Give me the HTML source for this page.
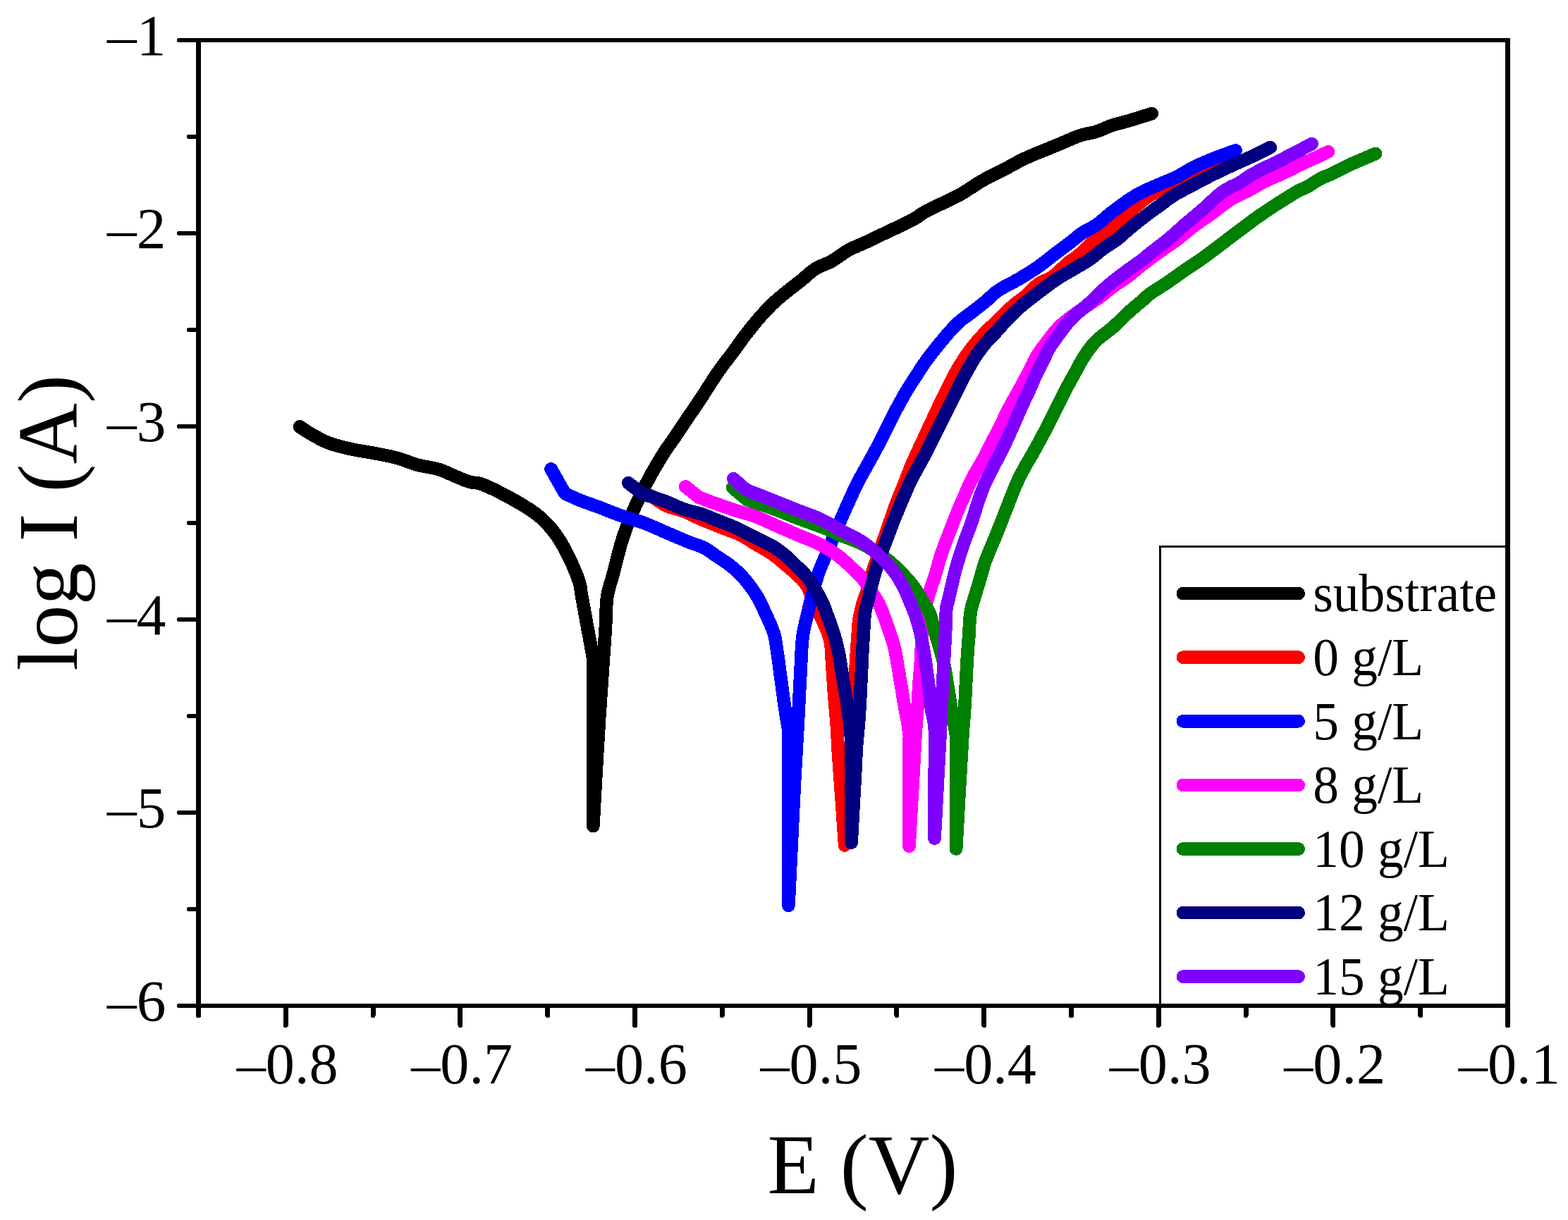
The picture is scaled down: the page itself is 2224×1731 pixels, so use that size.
<!DOCTYPE html>
<html lang="en"><head><meta charset="utf-8"><title>Polarization curves</title>
<style>
html,body{margin:0;padding:0;background:#fff;}
body{width:2224px;height:1731px;overflow:hidden;}
svg{display:block;}
</style></head><body>
<svg width="2224" height="1731" viewBox="0 0 2224 1731">
<rect width="2224" height="1731" fill="#fff"/>
<g fill="none" stroke-width="18.75" stroke-linecap="round" stroke-linejoin="round" shape-rendering="crispEdges">
<polyline stroke="#000000" points="425,605.4 429.6,608.4 434.2,611.4 438.9,614.4 443.8,617.2 449.1,620.2 454.5,623.2 460.2,626 466.2,628.5 473.8,631.1 481.8,633.3 490,635.4 498.1,637.2 505.9,638.8 513.7,640.1 521.5,641.4 529.4,642.8 538,644.4 546.7,646.1 555.4,647.9 563.8,650 571.1,652.3 578.2,654.9 585.3,657.5 592.5,659.8 600,661.4 607.7,662.8 615.2,664.2 622.5,666 628.9,668.3 635,671 641,673.7 646.9,676.2 652.1,678.4 657.2,680.6 662.2,682.5 667,684 670.5,684.7 673.8,685 677.3,685.3 681.2,686.2 690.3,689.7 701.1,694.7 712.4,700.5 723.1,706.2 733,711.7 742.8,717.5 752.2,723.4 760.6,729.4 766.6,734.3 772,739.3 777,744.4 781.9,750 786.9,756.4 791.6,763.1 796.1,770.3 800.6,778.1 806.6,789.8 812.7,803 818.1,815.9 821.9,826.9 823.1,831.7 823.7,835.6 824.2,839.7 825,845 828.2,862.5 832.3,885.2 836.9,910 841.2,933.8 841.3,1172 843.2,1138.1 845.1,1103.7 847,1070.4 848.8,1040 850,1019.8 851.3,1001.2 852.5,983.3 853.8,965 855.1,945.6 856.5,925.9 857.8,906.9 858.9,890 859.4,879.4 859.6,869.6 860,860.7 860.5,853 860.9,849 861.4,845.6 862,842.4 862.8,838.8 864.1,833.5 865.8,827.9 867.6,822.1 869.2,816.2 870.9,810.1 872.4,803.8 874,797.5 875.6,791.2 877.2,785.3 878.7,779.4 880.3,773.4 882.1,767.5 884.1,761.3 886.2,755.1 888.5,748.8 890.9,742.5 893.6,735.7 896.4,728.9 899.4,722 902.5,715 906.2,707.1 910.1,699 914.1,691 918,683.5 921.2,677.6 924.2,671.9 927.3,666.5 930.5,661 933.8,655.5 937.1,650 940.4,644.6 943.8,639.4 946.7,635.1 949.5,631.1 952.5,627 955.6,622.5 959.9,616.1 964.5,609.2 969.3,602 974,595 978.6,588.2 983.2,581.6 987.9,574.8 992.7,567.5 999,557.8 1005.6,547.5 1012.3,537.1 1018.8,527.5 1024,520.2 1029.1,513.4 1034.3,506.8 1039.4,500 1044.6,492.9 1049.7,485.7 1055,478.4 1060.8,470.9 1068.4,461.4 1076.6,451.5 1085.4,441.7 1094.5,432.2 1104.9,422.9 1116.2,413.6 1127.3,405 1136.9,397.4 1142.2,392.9 1146.8,388.8 1151.3,385.1 1156.2,381.6 1161.9,378.5 1167.9,375.9 1174,373.3 1179.9,370.4 1185.8,366.7 1191.6,362.7 1197.4,358.6 1203.4,354.9 1209.7,351.7 1216.2,348.9 1222.7,346.1 1229,343.3 1234.7,340.6 1240.2,338 1245.8,335.3 1252.1,332.2 1262.5,327.3 1274.4,321.8 1286,316.2 1295.9,311 1300.9,308 1305,305.1 1309.1,302.3 1314,299.4 1323,294.8 1333.4,290 1343.7,285.3 1352.1,281.2 1355.6,279.4 1358.5,277.9 1361.3,276.3 1364.6,274.4 1371.5,270.1 1379.6,264.9 1387.9,259.5 1395.9,254.8 1402.2,251.4 1408.4,248.4 1414.5,245.4 1420.9,242.2 1428.5,238.2 1436.3,233.9 1444.2,229.6 1452.1,225.6 1459.9,222 1467.8,218.6 1475.6,215.4 1482.8,212.5 1487.8,210.5 1492.4,208.6 1497,206.8 1502,204.8 1509.4,201.6 1517.5,198.1 1525.6,194.7 1533.2,191.9 1538.8,190.4 1544.1,189.3 1549.3,188.3 1554.5,186.9 1560.1,184.9 1565.6,182.6 1571.3,180.2 1577,178 1583.1,176.1 1589.2,174.5 1595.5,172.8 1602,171 1609.6,168.7 1617.6,166.2 1625.6,163.7 1633.6,161.2"/>
<polyline stroke="#ff0000" points="922.5,703 928.1,706.8 933.6,710.7 939.2,714.3 945,717.5 951.1,719.9 957.4,721.7 963.7,723.4 970,725.5 976.2,728.1 982.3,731.1 988.5,734.1 995,737 1002.6,740.2 1010.6,743.4 1018.6,746.5 1026.2,749.5 1032.8,752 1039.2,754.4 1045.4,756.8 1051.2,759.5 1056.1,762.2 1060.7,765 1065.2,768 1070,771 1076.4,774.7 1083.2,778.6 1089.9,782.6 1096,786.5 1100.2,789.6 1104,792.7 1107.7,795.8 1111.6,799.1 1116.3,803 1121.2,807.2 1126,811.4 1130.4,815.4 1133.6,818.4 1136.6,821.3 1139.4,824.2 1142,827.4 1144.3,831.1 1146.4,835.1 1148.3,839.3 1150.2,843.6 1152.6,848.8 1155,854.1 1157.4,859.8 1160,866 1164.3,875.6 1169.3,886.3 1173.9,897.2 1177.2,907.5 1178.6,915.2 1179.2,922.5 1179.5,929.8 1179.9,937.5 1180.6,946.7 1181.2,956.2 1181.8,965.8 1182.4,975 1183,983 1183.6,990.8 1184.3,998.5 1184.9,1006.2 1185.6,1014.2 1186.2,1022.1 1186.9,1030 1187.4,1037.5 1187.7,1043.7 1188,1049.6 1188.3,1055.6 1188.6,1062 1189.2,1070.5 1189.8,1079.4 1190.5,1089 1191.3,1100 1192.8,1121.6 1194.6,1146.8 1196.4,1173.5 1198.2,1199.5 1202.4,1130.8 1207,1058 1210.9,993.5 1213.6,950 1214,942.7 1214.3,937.4 1214.6,932.7 1214.9,927.5 1215.3,920.7 1215.8,913.7 1216.3,906.7 1216.8,900 1217.1,894.5 1217.4,889.3 1217.9,884.1 1218.6,878.8 1219.9,872.1 1221.5,865 1223.2,858.2 1225,852 1226.3,848.1 1227.6,844.7 1228.9,841.3 1230.2,837.5 1231.9,831.9 1233.4,825.8 1235.1,819.4 1237.1,812.5 1240.4,802.4 1244.3,791.2 1248.2,780.1 1251.8,770 1254.1,763.4 1256.2,757.3 1258.3,751.3 1260.5,745 1263.2,737.1 1266.1,728.8 1269,720.5 1271.9,712.5 1274.7,705.4 1277.6,698.4 1280.4,691.6 1283.1,685 1285.4,679 1287.6,673.2 1289.8,667.5 1292,662 1293.9,657.5 1295.8,653.1 1297.8,648.9 1299.8,644.5 1301.9,639.9 1304.1,635.2 1306.3,630.5 1308.5,625.8 1310.7,621.1 1312.9,616.4 1315.1,611.7 1317.2,607 1319.4,602.3 1321.6,597.6 1323.8,592.9 1326,588.2 1328.1,583.6 1330.3,579 1332.4,574.3 1334.6,569.8 1336.8,565.3 1339,561 1341.2,556.6 1343.4,552.2 1345.6,547.9 1347.7,543.5 1349.9,539.1 1352.1,534.8 1354.4,530.4 1356.8,526.2 1359.3,521.9 1361.9,517.6 1364.8,513 1367.7,508.4 1370.8,503.9 1374,499.4 1377.3,495 1380.6,490.7 1384,486.5 1387.4,482.5 1390.3,479.2 1393.1,476.2 1395.9,473.2 1399,470 1403,466.1 1407.2,462.1 1411.5,458 1416,453.8 1421.2,448.7 1426.5,443.4 1431.9,438.1 1437.1,433.4 1441.2,430.1 1445.2,427.1 1449.2,424.2 1453.4,420.9 1458.7,416.1 1464.2,410.8 1469.7,405.6 1475.1,401.4 1479.2,399.2 1483.2,397.7 1487.2,396.1 1491.4,393.9 1497.4,389.2 1503.8,383.3 1510,377.4 1515.6,372.4 1518.9,370 1521.9,368 1524.9,366 1528.1,363.6 1533.1,359.2 1538.3,354 1543.8,348.6 1549.4,343.6 1554.8,339.4 1560.3,335.5 1566,331.6 1572,327 1580.7,319.5 1590.2,311 1599.7,302.4 1608.9,294.6 1616.1,288.7 1622.9,283.1 1629.9,278 1637.5,273.4 1646.4,269.5 1655.9,266.3 1665.6,263.3 1675,260 1684,256.2 1692.9,252.1 1701.6,248 1710,244 1717.2,240.5 1724.2,237 1731.1,233.5 1738,230"/>
<polyline stroke="#0000ff" points="781.6,665.4 801.2,700 805.8,702.2 810.3,704.4 814.9,706.5 820,708.8 827.2,711.6 835.1,714.4 843.2,717.3 851.2,720.2 859.1,723.3 866.9,726.4 874.7,729.4 882.5,732.2 890.1,734.7 897.7,737 905.4,739.3 913,741.9 921,745.1 929,748.5 937,752.1 945,755.6 952.9,759 960.9,762.4 968.8,765.7 976.2,768.8 982.4,771.1 988.4,773.2 994.1,775.3 999.4,777.8 1003.4,780 1007,782.4 1010.5,785 1014.4,787.8 1020.2,791.6 1026.5,795.8 1032.9,800.2 1038.8,804.8 1043.6,808.9 1048.2,813.2 1052.6,817.7 1056.9,822.5 1061.6,828.4 1066.3,834.7 1070.7,841.2 1074.6,847.5 1077.4,852.5 1079.7,857.3 1082,862.2 1084.4,867.5 1087.8,874.8 1091.5,882.8 1095,890.9 1097.8,898.8 1099.4,905.3 1100.5,911.7 1101.4,918.1 1102.4,925 1103.7,933.9 1105,943.3 1106.2,953 1107.5,962.5 1108.8,971.9 1110,981.3 1111.3,990.6 1112.6,1000 1114,1009.4 1115.5,1018.8 1117,1028.1 1118.5,1037.5 1118.4,1284.8 1120.8,1236.3 1123.2,1186.3 1125.5,1139.3 1127.5,1100 1128.5,1082.2 1129.4,1067.1 1130.2,1052.9 1131.1,1037.5 1132.1,1018.1 1133.2,997.9 1134.2,977.7 1135.2,958.8 1136,943.5 1136.6,928.8 1137.4,914.9 1138.6,902.5 1139.9,894.9 1141.3,888.1 1142.9,881.6 1144.5,875 1146,868.6 1147.5,862.2 1149,855.8 1150.8,849 1153.2,839.9 1155.8,830.1 1158.7,820.3 1161.6,811.2 1164.2,804.5 1166.8,798.3 1169.6,792 1172.6,785 1177.5,773.2 1183.1,759.8 1188.7,746.5 1193.6,735 1196.3,728.8 1198.7,723.3 1201.1,718.1 1203.6,712.5 1206.6,705.8 1209.8,698.9 1213,691.9 1216.4,685 1220,678.2 1223.7,671.5 1227.5,664.7 1231.2,658 1235,651.2 1238.8,644.3 1242.5,637.5 1245.9,631 1248.6,625.8 1251,620.8 1253.5,615.9 1255.9,611 1258.4,606 1260.9,600.9 1263.4,595.9 1265.9,591 1268.3,586.3 1270.8,581.6 1273.3,577 1275.8,572.4 1278.2,568 1280.6,563.8 1283,559.5 1285.6,555.1 1288.5,550.3 1291.6,545.4 1294.8,540.5 1298,535.5 1301.6,530 1305.2,524.3 1308.9,518.6 1312.8,513.1 1316.6,507.9 1320.5,502.7 1324.5,497.6 1328.6,492.5 1333.1,486.9 1337.9,481.1 1342.6,475.5 1347.2,470.2 1351.3,465.9 1355.3,461.7 1359.3,457.9 1362.9,454.6 1365.1,452.8 1367.1,451.3 1369.2,449.9 1371.6,448.1 1377,444 1383.6,439 1390.3,433.8 1396.6,428.8 1401.4,424.6 1405.8,420.5 1410.3,416.4 1415.4,412.5 1422.4,408.1 1430.1,403.9 1438.1,399.8 1445.8,395.5 1452.9,391.2 1459.9,386.9 1466.8,382.4 1473.5,377.9 1479.5,373.5 1485.2,369 1490.8,364.5 1496.6,360 1503,355.2 1509.5,350.3 1515.9,345.6 1521.6,341.2 1525.2,338.4 1528.3,335.7 1531.5,333.1 1535,330.5 1539.7,327.7 1544.8,325 1550.1,322.2 1555.3,319 1560.8,314.8 1566.2,310.2 1571.8,305.4 1577.9,300.5 1586.2,294.3 1595.2,287.7 1604.5,281.3 1613.5,275.8 1621.1,271.7 1628.7,268.2 1636.2,265.1 1643.5,261.9 1650,259.1 1656.4,256.5 1662.7,253.9 1668.9,251 1675.1,247.6 1681.3,244 1687.5,240.4 1693.9,236.9 1701.2,233.5 1708.7,230.2 1716.3,227 1723.9,224 1731.1,221.2 1738.3,218.6 1745.4,216 1752.6,213.4"/>
<polyline stroke="#ff00ff" points="972.2,690.4 991.2,705.6 998.5,708.3 1005.7,711 1012.9,713.7 1020,716.2 1026.4,718.5 1032.6,720.6 1038.8,722.7 1045,724.8 1051.3,726.6 1057.6,728.4 1063.9,730.2 1070,732.2 1075.7,734.5 1081.3,736.9 1086.9,739.5 1093,742.2 1101.5,746 1110.7,750 1120.1,754.1 1129.2,758.1 1138,761.7 1146.8,765.2 1155.4,768.8 1163.6,772.8 1170.6,776.6 1177.3,780.7 1183.7,784.9 1189.9,789.4 1195.6,794 1201.1,798.9 1206.3,803.9 1211.1,808.5 1214.7,811.9 1218,815.1 1221.1,818.3 1224.2,821.9 1227.9,826.7 1231.4,832.1 1234.8,837.5 1238,842.5 1240.4,846.1 1242.5,849.5 1244.6,852.9 1246.8,856.9 1249.8,863.7 1252.8,871.4 1255.8,879.5 1258.6,887.5 1261.3,895.3 1264,903.3 1266.5,911.1 1268.6,918.8 1270,925.2 1271.2,931.4 1272.2,937.6 1273.2,943.8 1274.3,949.9 1275.3,956.1 1276.3,962.3 1277.4,968.8 1278.7,976.4 1280,984.4 1281.3,992.4 1282.6,1000 1283.8,1006.5 1285.1,1012.9 1286.3,1019.1 1287.4,1025 1288.1,1029.9 1288.7,1034.5 1289.3,1039.1 1289.9,1043.8 1289.5,1200.6 1291.6,1163.2 1293.9,1124.1 1295.9,1088.5 1297.4,1062 1297.8,1054.9 1298.1,1049.4 1298.3,1044.3 1298.7,1038.5 1299.4,1029.4 1300.2,1019.6 1301,1009.6 1301.8,1000 1302.3,992 1302.7,984.2 1303.1,976.5 1303.6,968.8 1304.2,960.9 1304.9,953.1 1305.5,945.3 1306.1,937.5 1306.5,930 1306.8,922.6 1307.1,915.3 1307.4,908 1307.6,901.2 1307.7,894.4 1308,887.8 1308.6,881.2 1309.5,875.3 1310.7,869.5 1312.1,863.7 1313.5,858 1315,852.2 1316.7,846.3 1318.4,840.6 1320.1,835 1321.7,830.3 1323.2,825.7 1324.8,821.2 1326.4,816.2 1328.3,809.8 1330.1,803 1332.1,795.9 1334.2,788.8 1337.1,780.5 1340.2,772 1343.5,763.5 1346.8,755 1350,746.6 1353.2,738.2 1356.4,730 1359.5,722.5 1361.8,717.1 1363.9,712.2 1366.1,707.4 1368.2,702.5 1370.3,697.6 1372.3,692.8 1374.5,687.9 1377,682.5 1381.5,674.1 1386.8,664.9 1392.2,655.6 1396.9,647.2 1399.7,641.9 1402.1,636.9 1404.5,632.1 1406.9,627.2 1409.4,622.5 1411.9,617.9 1414.4,613.3 1416.9,608.5 1419.4,603.3 1421.9,597.9 1424.4,592.5 1426.9,587.2 1429.3,582.5 1431.8,577.8 1434.3,573.2 1436.9,568.5 1439.6,563.6 1442.4,558.7 1445.3,553.6 1448.1,548.5 1451.2,542.7 1454.4,536.6 1457.6,530.6 1460.6,524.8 1463.1,519.7 1465.3,514.9 1467.7,510.1 1470.4,505.2 1473.9,499.9 1477.7,494.5 1481.8,489.1 1485.9,483.8 1490.1,478.2 1494.4,472.7 1499,467.3 1503.9,462.1 1509.7,456.9 1515.9,452.1 1522.4,447.3 1529.1,442.5 1536.9,437.1 1545.1,431.6 1553.2,426.3 1560.6,421.1 1565.7,417.2 1570.3,413.4 1574.8,409.7 1579.4,406.1 1584,402.9 1588.7,399.9 1593.4,396.9 1598.1,393.6 1603.3,389.5 1608.6,385.2 1613.9,380.7 1619.4,376.2 1625.5,371.6 1631.7,366.8 1638.1,362.1 1644.4,357.5 1650.6,353.1 1656.9,348.8 1663.2,344.5 1669.4,340 1675.7,335.1 1681.9,330 1688.1,324.9 1694.4,320 1700.6,315.5 1706.9,311.2 1713.1,306.9 1719.4,302.5 1725.8,297.6 1732.2,292.6 1738.7,287.7 1745.2,283.2 1751.6,279.7 1758.1,276.5 1764.5,273.5 1770.8,270.4 1776.2,267.3 1781.5,264.2 1786.9,261 1792.5,258 1799.4,254.7 1806.7,251.6 1814,248.4 1821.1,245.2 1827.5,242.1 1833.7,239 1839.9,235.8 1846.1,232.8 1852.5,229.8 1859.1,226.9 1865.4,224.1 1871.1,221.5 1874.6,219.9 1877.7,218.3 1880.7,216.9 1883.8,215.4"/>
<polyline stroke="#008000" points="1039.1,691.9 1059.4,708.8 1062,709.7 1064.4,710.5 1067.1,711.5 1070,712.5 1075,714.2 1080.6,716 1086.7,718.1 1093,720.3 1101.7,723.6 1111.1,727.3 1120.8,731.2 1130.5,735 1140.8,738.8 1151.4,742.6 1161.7,746.3 1171.2,750 1178.1,752.9 1184.4,755.7 1190.5,758.5 1196.8,761.2 1203,763.7 1209.1,765.9 1215.3,768.4 1221.8,771.2 1229.9,775.5 1238.5,780.5 1246.8,785.7 1254.4,790.9 1259.9,795.1 1264.8,799.3 1269.6,803.7 1274.4,808.4 1279.9,813.9 1285.4,819.8 1290.7,825.9 1295.6,832 1299.6,837.7 1303.2,843.5 1306.6,849.1 1309.8,854.5 1312.2,858.5 1314.6,862.2 1316.7,865.9 1318.6,869.8 1320,873.8 1321.1,877.9 1322.1,882.3 1323.4,887.5 1326.8,899.3 1331.1,913.7 1335.4,928.5 1338.8,941.6 1340.4,949.4 1341.6,956.5 1342.6,963.3 1343.8,970.4 1345,978.2 1346.3,986.2 1347.5,994.1 1348.8,1001.6 1349.8,1007.7 1350.9,1013.7 1352,1019.4 1353,1025 1353.8,1029.8 1354.6,1034.5 1355.3,1039.1 1356.1,1043.8 1356.1,1204.4 1357.6,1177.6 1359.1,1150.4 1360.6,1124.1 1362,1100 1363,1083.6 1363.9,1068.2 1364.7,1053.8 1365.6,1040 1366.3,1029.5 1367.1,1019.8 1367.8,1010.1 1368.5,1000 1369.2,987.6 1369.8,974.7 1370.4,961.9 1371,950 1371.5,941.1 1372,932.7 1372.5,924.7 1373,917.4 1373.4,912.4 1373.8,907.9 1374.2,903.5 1374.5,899 1374.7,894.4 1374.9,889.8 1375.1,885.2 1375.4,880.7 1375.8,876.5 1376.2,872.4 1376.8,868.3 1377.5,864.2 1378.5,860.1 1379.6,856.2 1380.9,852.1 1382.2,847.8 1383.9,842.2 1385.7,836.2 1387.6,830.1 1389.4,824 1391.1,818 1392.8,811.9 1394.5,805.9 1396.3,800.1 1398.2,794.9 1400.1,789.7 1402.2,784.8 1404.1,780 1405.7,776.2 1407.3,772.6 1408.8,768.9 1410.5,765 1412.8,759.5 1415.1,753.5 1417.6,747.4 1420,741.2 1422.5,734.8 1425.1,728.2 1427.7,721.6 1430.3,715 1432.9,708.1 1435.6,701.2 1438.3,694.3 1441.2,687.5 1444.3,680.8 1447.6,674.1 1450.9,667.8 1454,662 1456,658.4 1457.9,655.2 1459.8,652 1461.9,648.5 1464.8,643.3 1468,637.7 1471.2,631.8 1474.4,626 1477.5,620.1 1480.7,614.2 1483.8,608.3 1486.9,602.2 1490,596.1 1493.2,589.8 1496.3,583.5 1499.4,577.2 1502.5,571 1505.6,564.6 1508.8,558.4 1511.9,552.2 1514.9,546.6 1518,541.1 1521,535.6 1524.1,530.1 1527.1,524.5 1530.1,518.8 1533.2,513.2 1536.6,507.6 1540.5,501.6 1544.7,495.7 1549.2,489.8 1554.1,484.3 1559.8,479.1 1566,474.2 1572.4,469.4 1578.5,464.4 1584.4,458.9 1590.2,453.2 1596,447.6 1601.7,442.2 1607.1,437.5 1612.6,432.9 1617.8,428.5 1622.2,424.8 1624.5,422.7 1626.3,420.9 1628.2,419.2 1630.6,417.2 1635.9,413.6 1642.3,409.5 1649.1,405.2 1655.6,401 1661.7,396.7 1667.8,392.4 1673.9,388.1 1680,383.8 1686.2,379.5 1692.5,375.4 1698.7,371.2 1705,366.9 1711.4,362.2 1717.8,357.4 1724.2,352.6 1730.6,347.8 1736.9,343 1743.1,338.2 1749.4,333.5 1755.6,328.8 1761.7,324.2 1767.8,319.6 1773.9,315.1 1780,310.6 1786.2,306.2 1792.5,301.9 1798.7,297.7 1805,293.5 1811.3,289.4 1817.7,285.4 1823.9,281.5 1829.4,278.1 1832.8,276 1835.9,274.1 1838.9,272.3 1841.9,270.6 1844.8,269.2 1847.7,268 1850.6,266.8 1853.8,265.2 1858.3,262.6 1863.2,259.4 1868.2,256.2 1873.1,253.4 1877.6,251.3 1882.2,249.4 1886.7,247.6 1891.2,245.6 1896,243.2 1900.6,240.8 1905.4,238.2 1910.6,235.6 1918,232.2 1926.1,228.7 1934,225.3 1940.6,222.5 1943.6,221.2 1946.1,220.1 1948.5,219.1 1950.9,218.1"/>
<polyline stroke="#000080" points="891.2,685.2 911.2,700.6 919.8,703.4 928.5,706.2 936.9,709 945,711.9 951.5,714.6 957.7,717.4 963.8,720.1 970,722.5 976.2,724.4 982.5,726 988.8,727.6 995,729.4 1001.3,731.7 1007.5,734.2 1013.8,736.8 1020,739.4 1026.3,741.8 1032.5,744.2 1038.8,746.7 1045,749.4 1051.3,752.5 1057.6,755.7 1063.8,759.1 1070,762.2 1075.9,765.1 1081.9,767.8 1087.6,770.6 1093,773.4 1097.2,775.8 1101,778.3 1104.7,780.9 1108.6,783.8 1113.3,787.6 1118.1,791.9 1122.9,796.5 1127.6,801 1132.4,805.6 1137.3,810.3 1141.9,815.1 1146.1,820 1149.3,824.5 1152.2,829.1 1154.8,833.7 1157.4,838.1 1159.6,841.7 1161.6,845.2 1163.6,848.7 1165.5,852.5 1167.8,857.7 1170,863.3 1172.1,869.2 1174.2,875 1176.5,881.1 1178.8,887.3 1181,893.6 1183,900 1185,906.8 1186.8,913.8 1188.4,920.8 1189.9,927.5 1191,933.2 1191.8,938.8 1192.6,944.3 1193.5,950 1194.5,956.2 1195.5,962.6 1196.5,969 1197.5,975 1198.3,979.8 1199.1,984.2 1199.8,988.8 1200.6,993.7 1201.7,1001.1 1202.8,1009.1 1203.9,1017.2 1204.9,1025 1205.6,1031.4 1206.2,1037.7 1206.8,1043.8 1207.4,1050 1207.5,1195.6 1208.9,1170.8 1210.3,1145.5 1211.7,1121.3 1212.9,1100 1213.5,1087.6 1214,1076.5 1214.6,1066.1 1215.2,1056 1215.9,1047.9 1216.6,1040.2 1217.3,1032.6 1218,1025 1218.5,1017.3 1219,1009.6 1219.5,1001.8 1219.9,993.8 1220.4,984.6 1220.8,975.2 1221.3,965.7 1221.8,956.2 1222.2,946.8 1222.7,937.3 1223.1,927.9 1223.6,918.8 1224.1,910.6 1224.5,902.5 1225,894.7 1225.5,887.5 1225.8,882.3 1226.1,877.4 1226.5,872.7 1227.1,868 1228.1,863.3 1229.4,858.7 1230.7,854.2 1231.8,850 1232.4,847.1 1232.8,844.4 1233.3,841.8 1234,838.8 1235.3,833.7 1236.9,828 1238.6,822.1 1240.2,816.2 1241.8,810.6 1243.3,805.1 1244.9,799.4 1246.8,793.8 1249,787.6 1251.4,781.3 1254,775 1256.4,768.8 1258.6,762.8 1260.7,757 1262.9,751.1 1265.2,745 1268.2,737.4 1271.4,729.5 1274.7,721.6 1278,713.8 1281.1,706.4 1284.2,699.1 1287.3,691.9 1290.5,685 1293.5,679 1296.6,673.2 1299.7,667.6 1302.7,662 1305.4,657 1308.1,652 1310.8,647.2 1313.4,642.2 1315.9,637.3 1318.4,632.3 1320.9,627.3 1323.4,622.2 1325.9,617.2 1328.4,612.2 1330.9,607.2 1333.4,602.2 1335.9,597.2 1338.4,592.2 1340.9,587.2 1343.4,582.2 1345.9,577.2 1348.4,572.2 1350.9,567.2 1353.4,562.2 1355.9,557.3 1358.3,552.3 1360.8,547.3 1363.2,542.4 1365.7,537.6 1368.2,532.9 1370.7,528.3 1373.2,523.6 1375.9,519 1378.6,514.3 1381.3,509.8 1384.2,505.2 1387.4,500.6 1390.7,496 1394.1,491.5 1397.6,487.2 1400.8,483.6 1404.1,480.1 1407.5,476.7 1411,473 1415.2,468.3 1419.6,463.4 1424.1,458.3 1428.7,453.4 1433.7,448.3 1438.9,443.2 1444.2,438.2 1449.6,433.4 1455,429 1460.4,424.7 1466,420.5 1471.6,416.2 1477.7,411.5 1484,406.7 1490.3,402 1496.6,397.5 1502.6,393.7 1508.6,390.1 1514.7,386.6 1520.8,383 1527.1,379.3 1533.5,375.6 1539.8,371.9 1545.8,368 1550.9,364.2 1555.8,360.1 1560.6,356.2 1565.5,352.4 1570.1,349.2 1574.8,346.2 1579.4,343.3 1584,340 1588.8,336.1 1593.5,331.9 1598.3,327.7 1603,323.6 1607.6,319.8 1612.2,316.1 1616.9,312.4 1621.8,308.6 1627.4,304.3 1633.4,299.9 1639.3,295.6 1645,291.5 1649.5,288.1 1653.7,284.8 1658,281.7 1662.6,278.5 1668.5,274.9 1674.8,271.5 1681.3,268 1688,264.5 1695.5,260.5 1703.3,256.3 1711.2,252.2 1718.9,248.3 1725.9,244.9 1732.7,241.6 1739.5,238.4 1746.4,235.2 1753.5,232 1760.7,228.8 1767.9,225.6 1775,222.3 1781.8,219 1788.5,215.7 1795.2,212.4 1801.9,209.1"/>
<polyline stroke="#8000ff" points="1040.4,679.2 1058.1,695 1066.8,698.4 1075.6,701.8 1084.3,705.3 1093,708.7 1101.6,712.1 1110.1,715.6 1118.7,719 1127.4,722.5 1136.6,726 1146,729.5 1155.3,733 1164.2,736.9 1172.3,740.9 1180,745.3 1187.6,749.6 1194.9,753.8 1201.3,757 1207.5,760.1 1213.6,763.2 1219.2,766.5 1223.9,769.5 1228.1,772.5 1232.3,775.8 1236.8,779.4 1242.9,784.7 1249.4,790.7 1255.6,796.8 1261.1,802.5 1264.5,806.5 1267.5,810.2 1270.3,814 1273,818.1 1276.1,823.1 1279,828.5 1281.8,833.9 1284.2,838.8 1285.7,841.9 1287,844.8 1288.2,847.7 1289.5,851 1291.8,856.4 1294.3,862.4 1296.8,868.7 1299,875 1300.9,881.2 1302.7,887.4 1304.3,893.7 1305.8,900 1307.1,906.2 1308.3,912.5 1309.4,918.7 1310.5,925 1311.5,931.2 1312.5,937.5 1313.4,943.7 1314.2,950 1315.1,956.2 1316,962.3 1316.8,968.6 1317.6,975 1318.5,982.8 1319.3,990.9 1320.1,998.9 1321.1,1006.3 1322,1011.4 1323.1,1016.2 1324.1,1020.7 1324.9,1025 1325.3,1028.3 1325.6,1031.4 1325.8,1034.4 1326.1,1037.5 1325.5,1189.6 1327.4,1155.3 1329.3,1119.4 1331.1,1086.7 1332.4,1062 1332.8,1054.8 1333.1,1049.2 1333.4,1044 1333.7,1038.5 1334,1032.2 1334.3,1025.9 1334.6,1019.4 1334.9,1012.5 1335.4,1003.6 1335.9,994.2 1336.4,984.5 1336.9,975 1337.4,965.7 1337.9,956.4 1338.4,947.1 1338.9,937.5 1339.5,926.6 1340.1,915.4 1340.7,904.3 1341.2,893.8 1341.5,885.1 1341.6,876.4 1341.9,868.7 1342.4,862.5 1342.8,860.3 1343.2,858.6 1343.8,857 1344.3,855 1345.3,850.8 1346.4,845.9 1347.7,840.5 1349,835 1350.7,827.7 1352.5,819.8 1354.5,811.7 1356.6,803.8 1358.9,795.9 1361.3,788.1 1363.8,780.3 1366.5,772.5 1369.4,764.3 1372.6,756 1375.7,747.9 1378.5,740 1380.6,733.6 1382.5,727.4 1384.4,721.2 1386.4,715 1388.7,708.2 1391.1,701.2 1393.7,694.3 1396.4,687.5 1399.4,680.8 1402.8,674.1 1406,667.7 1409,662 1410.8,658.6 1412.4,655.6 1414.1,652.6 1415.8,649.4 1417.9,645.3 1420.1,640.9 1422.3,636.4 1424.5,631.9 1426.7,627.3 1428.9,622.6 1431.1,617.9 1433.2,613.1 1435.4,608.2 1437.6,603.2 1439.8,598.2 1442,593.1 1444.4,587.5 1446.9,581.9 1449.5,576.2 1452,570.6 1454.5,565.2 1457.1,559.8 1459.6,554.6 1462,549.4 1463.9,544.9 1465.7,540.6 1467.5,536.3 1469.5,531.9 1471.8,527.1 1474.3,522.2 1476.9,517.4 1479.3,512.6 1481.4,508.1 1483.4,503.7 1485.4,499.3 1487.8,494.9 1490.8,490.1 1494.1,485.3 1497.6,480.5 1501.2,475.6 1505.4,469.9 1509.7,464.1 1514.4,458.2 1519.5,452.5 1526,446.2 1533.2,440.1 1540.6,434 1547.6,427.9 1553.8,422 1559.9,416.1 1565.9,410.2 1572.1,404.6 1578.5,399.3 1585,394.2 1591.5,389.3 1598,384.5 1604.2,380 1610.5,375.5 1616.5,371.3 1621.6,367.5 1624.2,365.4 1626.4,363.5 1628.6,361.6 1631.2,359.4 1636.7,355.2 1643,350.3 1649.8,345.2 1656.2,340 1662.5,334.7 1668.8,329.1 1675,323.6 1681.2,318.1 1687.5,312.8 1693.7,307.5 1700,302.3 1706.2,296.9 1712.9,290.9 1719.6,284.6 1726.1,278.7 1732,273.8 1735.3,271.4 1738.4,269.5 1741.4,267.7 1744.5,266 1747.9,264.2 1751.4,262.6 1754.9,260.9 1758.5,259 1762.4,256.6 1766.2,253.9 1770.3,251.1 1775,248.1 1784.3,243.1 1795.4,237.5 1806.7,232 1816.9,226.9 1823.7,223.4 1830,220.2 1836.1,217 1841.9,214 1846.8,211.4 1851.4,209 1856,206.5 1860.6,204.1"/>
</g>
<g shape-rendering="crispEdges">
<rect x="1645.5" y="775.5" width="493.0" height="651.5" fill="#fff" stroke="#000" stroke-width="3"/>
<g stroke-width="18.75" stroke-linecap="round">
<line x1="1677.9" x2="1841.6" y1="842.1" y2="842.1" stroke="#000000"/>
<line x1="1677.9" x2="1841.6" y1="932.7" y2="932.7" stroke="#ff0000"/>
<line x1="1677.9" x2="1841.6" y1="1023.3" y2="1023.3" stroke="#0000ff"/>
<line x1="1677.9" x2="1841.6" y1="1113.9" y2="1113.9" stroke="#ff00ff"/>
<line x1="1677.9" x2="1841.6" y1="1204.5" y2="1204.5" stroke="#008000"/>
<line x1="1677.9" x2="1841.6" y1="1295.1" y2="1295.1" stroke="#000080"/>
<line x1="1677.9" x2="1841.6" y1="1385.7" y2="1385.7" stroke="#8000ff"/>
</g>
</g>
<g font-family="'Liberation Serif', serif" font-size="75.5" fill="#000">
<text transform="translate(1862.2,867.3) scale(0.9725,1)">substrate</text>
<text transform="translate(1862.2,957.9) scale(0.9725,1)">0 g/L</text>
<text transform="translate(1862.2,1048.5) scale(0.9725,1)">5 g/L</text>
<text transform="translate(1862.2,1139.1) scale(0.9725,1)">8 g/L</text>
<text transform="translate(1862.2,1229.7) scale(0.9725,1)">10 g/L</text>
<text transform="translate(1862.2,1320.3) scale(0.9725,1)">12 g/L</text>
<text transform="translate(1862.2,1410.9) scale(0.9725,1)">15 g/L</text>
</g>
<g stroke="#000" fill="none" shape-rendering="crispEdges">
<g stroke-width="7" stroke-linecap="round">
<line x1="281.50" x2="281.50" y1="1427.0" y2="1440.5"/>
<line x1="405.30" x2="405.30" y1="1427.0" y2="1454.5"/>
<line x1="529.10" x2="529.10" y1="1427.0" y2="1440.5"/>
<line x1="652.90" x2="652.90" y1="1427.0" y2="1454.5"/>
<line x1="776.70" x2="776.70" y1="1427.0" y2="1440.5"/>
<line x1="900.50" x2="900.50" y1="1427.0" y2="1454.5"/>
<line x1="1024.30" x2="1024.30" y1="1427.0" y2="1440.5"/>
<line x1="1148.10" x2="1148.10" y1="1427.0" y2="1454.5"/>
<line x1="1271.90" x2="1271.90" y1="1427.0" y2="1440.5"/>
<line x1="1395.70" x2="1395.70" y1="1427.0" y2="1454.5"/>
<line x1="1519.50" x2="1519.50" y1="1427.0" y2="1440.5"/>
<line x1="1643.30" x2="1643.30" y1="1427.0" y2="1454.5"/>
<line x1="1767.10" x2="1767.10" y1="1427.0" y2="1440.5"/>
<line x1="1890.90" x2="1890.90" y1="1427.0" y2="1454.5"/>
<line x1="2014.70" x2="2014.70" y1="1427.0" y2="1440.5"/>
<line x1="2138.50" x2="2138.50" y1="1427.0" y2="1454.5"/>
</g>
<g stroke-width="6" stroke-linecap="round">
<line x1="281.5" x2="254" y1="57.00" y2="57.00"/>
<line x1="281.5" x2="268" y1="194.00" y2="194.00"/>
<line x1="281.5" x2="254" y1="331.00" y2="331.00"/>
<line x1="281.5" x2="268" y1="468.00" y2="468.00"/>
<line x1="281.5" x2="254" y1="605.00" y2="605.00"/>
<line x1="281.5" x2="268" y1="742.00" y2="742.00"/>
<line x1="281.5" x2="254" y1="879.00" y2="879.00"/>
<line x1="281.5" x2="268" y1="1016.00" y2="1016.00"/>
<line x1="281.5" x2="254" y1="1153.00" y2="1153.00"/>
<line x1="281.5" x2="268" y1="1290.00" y2="1290.00"/>
<line x1="281.5" x2="254" y1="1427.00" y2="1427.00"/>
</g>
<g stroke-width="6"><line x1="278.0" x2="2142.0" y1="57.0" y2="57.0"/><line x1="278.0" x2="2142.0" y1="1427.0" y2="1427.0"/></g>
<g stroke-width="7"><line x1="281.5" x2="281.5" y1="54.0" y2="1430.0"/><line x1="2138.5" x2="2138.5" y1="54.0" y2="1430.0"/></g>
</g>
<g font-family="'Liberation Serif', serif" font-size="83.3" fill="#000">
<text transform="translate(407.6,1537) scale(0.987,1)" text-anchor="middle">–0.8</text>
<text transform="translate(655.2,1537) scale(0.987,1)" text-anchor="middle">–0.7</text>
<text transform="translate(902.8,1537) scale(0.987,1)" text-anchor="middle">–0.6</text>
<text transform="translate(1150.4,1537) scale(0.987,1)" text-anchor="middle">–0.5</text>
<text transform="translate(1398.0,1537) scale(0.987,1)" text-anchor="middle">–0.4</text>
<text transform="translate(1645.6,1537) scale(0.987,1)" text-anchor="middle">–0.3</text>
<text transform="translate(1893.2,1537) scale(0.987,1)" text-anchor="middle">–0.2</text>
<text transform="translate(2140.8,1537) scale(0.987,1)" text-anchor="middle">–0.1</text>
<text x="235.3" y="77.9" text-anchor="end">–1</text>
<text x="235.3" y="351.9" text-anchor="end">–2</text>
<text x="235.3" y="625.9" text-anchor="end">–3</text>
<text x="235.3" y="899.9" text-anchor="end">–4</text>
<text x="235.3" y="1173.9" text-anchor="end">–5</text>
<text x="235.3" y="1447.9" text-anchor="end">–6</text>
</g>
<g font-family="'Liberation Serif', serif" font-size="120" fill="#000">
<text x="1223.4" y="1693" text-anchor="middle">E (V)</text>
<text transform="translate(108.8,741.8) rotate(-90)" text-anchor="middle">log I (A)</text>
</g>
</svg>
</body></html>
